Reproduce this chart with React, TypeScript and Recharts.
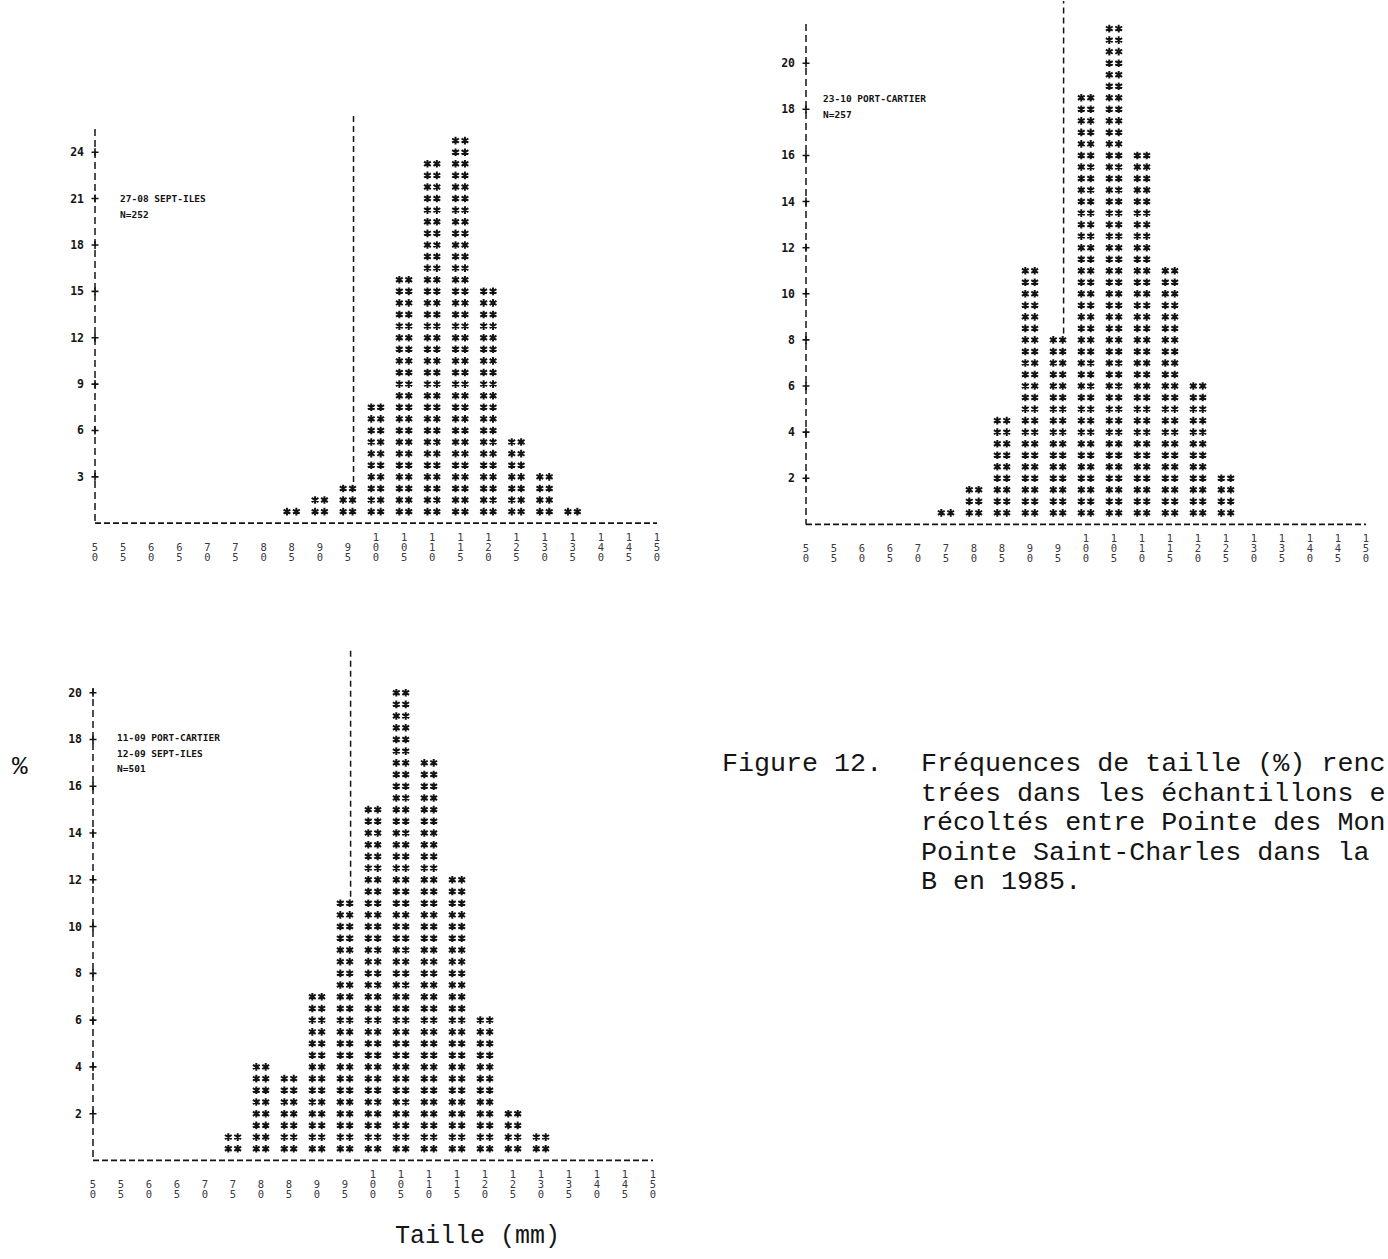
import React from 'react';
import { BarChart, Bar, XAxis, YAxis, ReferenceLine } from 'recharts';

// ---------- data ----------
const sizeTicks = [50, 55, 60, 65, 70, 75, 80, 85, 90, 95, 100, 105, 110, 115, 120, 125, 130, 135, 140, 145, 150];

// 27-08 SEPT-ILES, N=252
const sizes1 = [85, 90, 95, 100, 105, 110, 115, 120, 125, 130, 135];
const pct1 = [0.75, 1.5, 2.25, 7.5, 15.75, 23.25, 24.75, 15, 5.25, 3, 0.75];
const yTicks1 = [3, 6, 9, 12, 15, 18, 21, 24];
const label1 = ['27-08 SEPT-ILES', 'N=252'];

// 23-10 PORT-CARTIER, N=257
const sizes2 = [75, 80, 85, 90, 95, 100, 105, 110, 115, 120, 125];
const pct2 = [0.5, 1.5, 4.5, 11, 8, 18.5, 21.5, 16, 11, 6, 2];
const yTicks2 = [2, 4, 6, 8, 10, 12, 14, 16, 18, 20];
const label2 = ['23-10 PORT-CARTIER', 'N=257'];

// 11-09 PORT-CARTIER + 12-09 SEPT-ILES, N=501
const sizes3 = [75, 80, 85, 90, 95, 100, 105, 110, 115, 120, 125, 130];
const pct3 = [1, 4, 3.5, 7, 11, 15, 20, 17, 12, 6, 2, 1];
const yTicks3 = [2, 4, 6, 8, 10, 12, 14, 16, 18, 20];
const label3 = ['11-09 PORT-CARTIER', '12-09 SEPT-ILES', 'N=501'];

const refSize = 96;

const captionHead = 'Figure 12.';
const captionLines = [
  'Fréquences de taille (%) renc',
  'trées dans les échantillons e',
  'récoltés entre Pointe des Mon',
  'Pointe Saint-Charles dans la',
  'B en 1985.',
];

// ---------- rendering helpers ----------
const INK = '#141414';

function Asterisks(props: any) {
  const { x, y, width, height, payload, rowUnit } = props;
  const v = payload?.pct;
  if (!v || !(height > 0)) return null;
  const rows = Math.round(v / rowUnit);
  const step = height / (v / rowUnit);
  const cx = x + width / 2;
  const bottom = y + height;
  let d = '';
  for (let k = 1; k <= rows; k++) {
    const cy = bottom - k * step;
    for (const dx of [-4.7, 4.7]) {
      const ax = cx + dx;
      d += `M${ax},${cy - 3.8}L${ax},${cy + 3.8}`;
      d += `M${ax - 3.4},${cy - 2.1}L${ax + 3.4},${cy + 2.1}`;
      d += `M${ax - 3.4},${cy + 2.1}L${ax + 3.4},${cy - 2.1}`;
    }
  }
  return <path d={d} stroke={INK} strokeWidth={2} fill="none" />;
}

function XTick(props: any) {
  const { x, y, payload } = props;
  const s = String(payload.value);
  const digits = s.split('');
  const start = 3 - digits.length;
  return (
    <g>
      {digits.map((c, i) => (
        <text
          key={i}
          x={x}
          y={y + 14 + (start + i) * 10}
          textAnchor="middle"
          dominantBaseline="central"
          fontFamily="DejaVu Sans Mono, monospace"
          fontSize={10.5}
          fill="#3a3a3a"
        >
          {c}
        </text>
      ))}
    </g>
  );
}

function YTick(props: any) {
  const { x, y, payload } = props;
  return (
    <g>
      <path d={`M${x - 3.5},${y}L${x + 3.5},${y}M${x},${y - 4}L${x},${y + 4}`} stroke={INK} strokeWidth={1.6} />
      <text
        x={x - 11}
        y={y}
        textAnchor="end"
        dominantBaseline="central"
        fontFamily="DejaVu Sans Mono, monospace"
        fontWeight="bold"
        fontSize={11.5}
        fill={INK}
      >
        {payload.value}
      </text>
    </g>
  );
}

type Cfg = {
  sizes: number[];
  pct: number[];
  yTicks: number[];
  left: number;
  right: number;
  zeroY: number;
  unit: number;
  yMax: number;
  rowUnit: number;
  refTop: number;
};

function Histo({ cfg }: { cfg: Cfg }) {
  const { sizes, pct, yTicks, left, right, zeroY, unit, yMax, rowUnit, refTop } = cfg;
  const data = sizes.map((s, i) => ({ size: s, pct: pct[i] }));
  const plotTop = zeroY - yMax * unit;
  const W = right - left + 80;
  const H = zeroY - plotTop + 90;
  const v95 = pct[sizes.indexOf(95)];
  return (
    <div style={{ position: 'absolute', left: left - 60, top: plotTop - 40, width: W, height: H }}>
      <BarChart width={W} height={H} data={data} margin={{ top: 40, right: 20, bottom: 0, left: 0 }}>
        <XAxis
          dataKey="size"
          type="number"
          domain={[50, 150]}
          ticks={sizeTicks}
          interval={0}
          height={50}
          tickSize={0}
          tickMargin={0}
          allowDataOverflow
          axisLine={{ stroke: INK, strokeWidth: 1.7, strokeDasharray: '6 3' }}
          tick={<XTick />}
        />
        <YAxis
          type="number"
          domain={[0, yMax]}
          ticks={yTicks}
          interval={0}
          width={60}
          tickSize={0}
          tickMargin={0}
          allowDataOverflow
          axisLine={{ stroke: INK, strokeWidth: 1.5, strokeDasharray: '7 4' }}
          tick={<YTick />}
        />
        <ReferenceLine
          segment={[
            { x: refSize, y: v95 + rowUnit * 0.55 },
            { x: refSize, y: refTop },
          ]}
          ifOverflow="visible"
          stroke={INK}
          strokeWidth={1.5}
          strokeDasharray="6 4"
        />
        <Bar
          dataKey="pct"
          barSize={18}
          isAnimationActive={false}
          shape={(p: any) => <Asterisks {...p} rowUnit={rowUnit} />}
        />
      </BarChart>
    </div>
  );
}

function Label({ lines, x, y }: { lines: string[]; x: number; y: number }) {
  return (
    <div
      style={{
        position: 'absolute',
        left: x,
        top: y,
        fontFamily: 'DejaVu Sans Mono, monospace',
        fontWeight: 'bold',
        fontSize: 9.5,
        lineHeight: '15.5px',
        color: INK,
        whiteSpace: 'pre',
      }}
    >
      {lines.map((l, i) => (
        <div key={i}>{l}</div>
      ))}
    </div>
  );
}

const cfg1: Cfg = { sizes: sizes1, pct: pct1, yTicks: yTicks1, left: 94.5, right: 656.5, zeroY: 523, unit: 15.46, yMax: 25.5, rowUnit: 0.75, refTop: 26.4 };
const cfg2: Cfg = { sizes: sizes2, pct: pct2, yTicks: yTicks2, left: 806, right: 1366, zeroY: 524, unit: 23.06, yMax: 21.7, rowUnit: 0.5, refTop: 22.7 };
const cfg3: Cfg = { sizes: sizes3, pct: pct3, yTicks: yTicks3, left: 93, right: 653, zeroY: 1160.5, unit: 23.39, yMax: 20.2, rowUnit: 0.5, refTop: 22.5 };

const captionFont: React.CSSProperties = {
  position: 'absolute',
  fontFamily: 'Liberation Mono, monospace',
  fontSize: 26.7,
  lineHeight: '29.5px',
  color: INK,
  whiteSpace: 'pre',
};

export default function App() {
  return (
    <div
      style={{
        position: 'absolute',
        left: 0,
        top: 0,
        width: 1388,
        height: 1259,
        overflow: 'hidden',
        background: '#fff',
      }}
    >
      <Histo cfg={cfg1} />
      <Histo cfg={cfg2} />
      <Histo cfg={cfg3} />
      <Label lines={label1} x={120} y={191} />
      <Label lines={label2} x={823} y={91} />
      <Label lines={label3} x={117} y={730} />
      <div style={{ ...captionFont, left: 12, top: 753, fontSize: 26 }}>%</div>
      <div style={{ ...captionFont, left: 395, top: 1222, fontSize: 25 }}>Taille (mm)</div>
      <div style={{ ...captionFont, left: 722, top: 750 }}>{captionHead}</div>
      <div style={{ ...captionFont, left: 921, top: 750 }}>
        {captionLines.map((l, i) => (
          <div key={i}>{l}</div>
        ))}
      </div>
    </div>
  );
}
